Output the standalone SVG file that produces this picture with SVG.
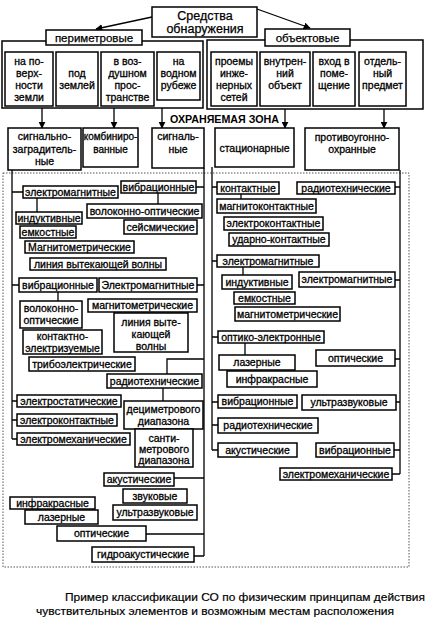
<svg xmlns="http://www.w3.org/2000/svg" width="427" height="619" viewBox="0 0 427 619">
<defs>
<marker id="ah" viewBox="0 0 10 10" refX="9" refY="5" markerWidth="7" markerHeight="7" orient="auto-start-reverse" markerUnits="userSpaceOnUse"><path d="M0,0 L10,5 L0,10 z" fill="#000"/></marker>
<style>
.b{fill:#fff;stroke:#000;stroke-width:1.5}
.o{fill:none;stroke:#000;stroke-width:1.5}
.t{font-family:"Liberation Sans",Arial,sans-serif;font-size:10.5px;text-anchor:middle;fill:#000;stroke:#000;stroke-width:0.3}
.h{font-family:"Liberation Sans",Arial,sans-serif;font-size:12.5px;text-anchor:middle;fill:#000;stroke:#000;stroke-width:0.25}
.z{font-family:"Liberation Sans",Arial,sans-serif;font-size:11px;font-weight:bold;fill:#000}
.cap{font-family:"Liberation Sans",Arial,sans-serif;font-size:11.5px;fill:#000;stroke:#000;stroke-width:0.2}
.c{fill:none;stroke:#000;stroke-width:1.3}
.d{fill:none;stroke:#555;stroke-width:1;stroke-dasharray:1.5 1.5}
</style>
</defs>
<rect x="0" y="0" width="427" height="619" fill="#fff"/>
<rect class="d" x="3" y="173" width="406" height="394"/>

<g id="connectors">
<line class="c" x1="152" y1="17" x2="96" y2="29" marker-end="url(#ah)"/>
<line class="c" x1="257" y1="9" x2="310" y2="28" marker-end="url(#ah)"/>
<line class="c" x1="42" y1="108" x2="42" y2="128" marker-end="url(#ah)"/>
<line class="c" x1="114" y1="108" x2="114" y2="128" marker-end="url(#ah)"/>
<line class="c" x1="162" y1="108" x2="162" y2="128" marker-end="url(#ah)"/>
<line class="c" x1="285" y1="109" x2="285" y2="128" marker-end="url(#ah)"/>
<line class="c" x1="384" y1="109" x2="384" y2="128" marker-end="url(#ah)"/>
<path class="c" d="M12,170 V439 M12,192 H23 M12,285 H19 M12,401 H17 M12,420 H17 M12,439 H17"/>
<path class="c" d="M204,168 V556 M196,187 H204 M197,285 H204 M204,359 H167 V374 M174,478 H204 M146,534 H204 M194,556 H204"/>
<path class="c" d="M212,167 V450 M212,187 H217 M212,261 H217 M212,337 H218 M212,402 H218 M212,425 H218 M212,450 H218"/>
<path class="c" d="M400,170 V474 M395,187 H400 M395,280 H400 M395,359 H400 M396,402 H400 M394,450 H400 M392,474 H400"/>
<path class="c" d="M37,198 V212 M158,193 V204 M58,292 V301 M163,388 V401 M241,194 V199 M243,267 V275 M245,343 V355"/>
</g>

<g id="n-root"><rect class="b" x="152" y="7" width="105" height="30"/><text class="h" x="205" y="20">Средства</text><text class="h" x="205" y="33">обнаружения</text></g>

<g id="n-perim">
<rect class="o" x="2" y="41" width="201" height="67"/>
<rect class="b" x="46" y="30" width="96" height="15"/><text class="h" x="94" y="42" style="font-size:11.5px">периметровые</text>
</g>
<g id="n-p1"><rect class="b" x="5" y="52" width="48" height="54"/><text class="t" x="29" y="65">на по-</text><text class="t" x="29" y="77">верх-</text><text class="t" x="29" y="89">ности</text><text class="t" x="29" y="101">земли</text></g>
<g id="n-p2"><rect class="b" x="56" y="52" width="42" height="54"/><text class="t" x="77" y="77">под</text><text class="t" x="77" y="89">землей</text></g>
<g id="n-p3"><rect class="b" x="101" y="52" width="53" height="54"/><text class="t" x="127.5" y="65">в воз-</text><text class="t" x="127.5" y="77">душном</text><text class="t" x="127.5" y="89">прос-</text><text class="t" x="127.5" y="101">транстве</text></g>
<g id="n-p4"><rect class="b" x="157" y="52" width="43" height="48"/><text class="t" x="178.5" y="65">на</text><text class="t" x="178.5" y="77">водном</text><text class="t" x="178.5" y="89">рубеже</text></g>

<g id="n-obj">
<rect class="o" x="207" y="40" width="216" height="69"/>
<rect class="b" x="265" y="29" width="85" height="17"/><text class="h" x="307.5" y="42" style="font-size:11.5px">объектовые</text>
</g>
<g id="n-o1"><rect class="b" x="211" y="52" width="46" height="54"/><text class="t" x="234" y="65">проемы</text><text class="t" x="234" y="77">инже-</text><text class="t" x="234" y="89">нерных</text><text class="t" x="234" y="101">сетей</text></g>
<g id="n-o2"><rect class="b" x="260" y="52" width="50" height="54"/><text class="t" x="285" y="65">внутрен-</text><text class="t" x="285" y="77">ний</text><text class="t" x="285" y="89">объект</text></g>
<g id="n-o3"><rect class="b" x="313" y="52" width="42" height="54"/><text class="t" x="334" y="65">вход в</text><text class="t" x="334" y="77">поме-</text><text class="t" x="334" y="89">щение</text></g>
<g id="n-o4"><rect class="b" x="359" y="52" width="47" height="54"/><text class="t" x="382.5" y="65">отдель-</text><text class="t" x="382.5" y="77">ный</text><text class="t" x="382.5" y="89">предмет</text></g>

<text class="z" x="170" y="123" textLength="109" lengthAdjust="spacingAndGlyphs">ОХРАНЯЕМАЯ ЗОНА</text>

<g id="n-s1"><rect class="b" x="8" y="128" width="73" height="42"/><text class="t" x="44.5" y="140">сигнально-</text><text class="t" x="44.5" y="153">заградитель-</text><text class="t" x="44.5" y="165">ные</text></g>
<g id="n-s2"><rect class="b" x="83" y="128" width="55" height="39"/><text class="t" x="110.5" y="140" style="font-size:10px">комбиниро-</text><text class="t" x="110.5" y="153" style="font-size:10px">ванные</text></g>
<g id="n-s3"><rect class="b" x="152" y="128" width="52" height="40"/><text class="t" x="178" y="140">сигналь-</text><text class="t" x="178" y="153">ные</text></g>
<g id="n-s4"><rect class="b" x="215" y="128" width="79" height="39"/><text class="t" x="254.5" y="152">стационарные</text></g>
<g id="n-s5"><rect class="b" x="305" y="128" width="94" height="42"/><text class="t" x="352" y="141">противоугонно-</text><text class="t" x="352" y="153">охранные</text></g>

<g id="n-L1"><rect class="b" x="23" y="186" width="95" height="12"/><text class="t" x="70.5" y="195.5">электромагнитные</text></g>
<g id="n-L2"><rect class="b" x="121" y="181" width="75" height="12"/><text class="t" x="158.5" y="190.5">вибрационные</text></g>
<g id="n-L3"><rect class="b" x="16" y="212" width="66" height="12"/><text class="t" x="49" y="221.5">индуктивные</text></g>
<g id="n-L4"><rect class="b" x="20" y="226" width="56" height="12"/><text class="t" x="48" y="235.5">емкостные</text></g>
<g id="n-L5"><rect class="b" x="87" y="204" width="115" height="14"/><text class="t" x="144.5" y="214.5">волоконно-оптические</text></g>
<g id="n-L6"><rect class="b" x="124" y="220" width="73" height="14"/><text class="t" x="160.5" y="230.5">сейсмические</text></g>
<g id="n-L7"><rect class="b" x="25" y="241" width="109" height="12"/><text class="t" x="79.5" y="250.5">Магнитометрические</text></g>
<g id="n-L8"><rect class="b" x="30" y="258" width="136" height="12"/><text class="t" x="98" y="267.5">линия вытекающей волны</text></g>
<g id="n-L9"><rect class="b" x="19" y="278" width="78" height="14"/><text class="t" x="58" y="288.5">вибрационные</text></g>
<g id="n-L10"><rect class="b" x="99" y="278" width="98" height="14"/><text class="t" x="148" y="288.5">Электромагнитные</text></g>
<g id="n-L11"><rect class="b" x="20" y="301" width="62" height="27"/><text class="t" x="51" y="311.5">волоконно-</text><text class="t" x="51" y="324">оптические</text></g>
<g id="n-L12"><rect class="b" x="88" y="299" width="109" height="13"/><text class="t" x="142.5" y="309">магнитометрические</text></g>
<g id="n-L13"><rect class="b" x="114" y="313" width="74" height="39"/><text class="t" x="151" y="326">линия выте-</text><text class="t" x="151" y="338">кающей</text><text class="t" x="151" y="350">волны</text></g>
<g id="n-L14"><rect class="b" x="23" y="330" width="79" height="24"/><text class="t" x="62.5" y="339.5">контактно-</text><text class="t" x="62.5" y="351.5">электризуемые</text></g>
<g id="n-L15"><rect class="b" x="29" y="357" width="106" height="14"/><text class="t" x="82" y="367.5">трибоэлектрические</text></g>
<g id="n-L16"><rect class="b" x="107" y="374" width="95" height="14"/><text class="t" x="154.5" y="384.5">радиотехнические</text></g>
<g id="n-L17"><rect class="b" x="17" y="395" width="104" height="12"/><text class="t" x="69" y="404.5">электростатические</text></g>
<g id="n-L18"><rect class="b" x="17" y="414" width="100" height="12"/><text class="t" x="67" y="423.5">электроконтактные</text></g>
<g id="n-L19"><rect class="b" x="17" y="433" width="113" height="12"/><text class="t" x="73.5" y="442.5">электромеханические</text></g>
<g id="n-L20"><rect class="b" x="124" y="401" width="79" height="28"/><text class="t" x="163.5" y="413">дециметрового</text><text class="t" x="163.5" y="425">диапазона</text></g>
<g id="n-L21"><rect class="b" x="135" y="429" width="58" height="38"/><text class="t" x="164" y="442">санти-</text><text class="t" x="164" y="453">метрового</text><text class="t" x="164" y="464">диапазона</text></g>
<g id="n-L22"><rect class="b" x="104" y="473" width="70" height="13"/><text class="t" x="139" y="483">акустические</text></g>
<g id="n-L23"><rect class="b" x="123" y="489" width="64" height="14"/><text class="t" x="155" y="499.5">звуковые</text></g>
<g id="n-L24"><rect class="b" x="113" y="505" width="84" height="15"/><text class="t" x="155" y="516">ультразвуковые</text></g>
<g id="n-L25"><rect class="b" x="10" y="497" width="85" height="12"/><text class="t" x="52.5" y="506.5">инфракрасные</text></g>
<g id="n-L26"><rect class="b" x="25" y="510" width="73" height="14"/><text class="t" x="61.5" y="520.5">лазерные</text></g>
<g id="n-L27"><rect class="b" x="57" y="526" width="89" height="15"/><text class="t" x="101.5" y="537">оптические</text></g>
<g id="n-L28"><rect class="b" x="92" y="547" width="102" height="15"/><text class="t" x="143" y="558">гидроакустические</text></g>

<g id="n-R1"><rect class="b" x="217" y="182" width="62" height="12"/><text class="t" x="248" y="191.5">контактные</text></g>
<g id="n-R2"><rect class="b" x="297" y="182" width="98" height="12"/><text class="t" x="346" y="191.5">радиотехнические</text></g>
<g id="n-R3"><rect class="b" x="217" y="199" width="99" height="14"/><text class="t" x="266.5" y="209.5">магнитоконтактные</text></g>
<g id="n-R4"><rect class="b" x="224" y="217" width="99" height="13"/><text class="t" x="273.5" y="227">электроконтактные</text></g>
<g id="n-R5"><rect class="b" x="229" y="233" width="100" height="13"/><text class="t" x="279" y="243">ударно-контактные</text></g>
<g id="n-R6"><rect class="b" x="217" y="255" width="102" height="12"/><text class="t" x="268" y="264.5">электромагнитные</text></g>
<g id="n-R7"><rect class="b" x="222" y="275" width="70" height="14"/><text class="t" x="257" y="285.5">индуктивные</text></g>
<g id="n-R8"><rect class="b" x="234" y="292" width="61" height="12"/><text class="t" x="264.5" y="301.5">емкостные</text></g>
<g id="n-R9"><rect class="b" x="235" y="307" width="105" height="14"/><text class="t" x="287.5" y="317.5">магнитометрические</text></g>
<g id="n-R10"><rect class="b" x="299" y="272" width="96" height="15"/><text class="t" x="347" y="283">электромагнитные</text></g>
<g id="n-R11"><rect class="b" x="218" y="331" width="106" height="12"/><text class="t" x="271" y="340.5">оптико-электронные</text></g>
<g id="n-R12"><rect class="b" x="219" y="355" width="76" height="15"/><text class="t" x="257" y="366">лазерные</text></g>
<g id="n-R13"><rect class="b" x="227" y="371" width="90" height="16"/><text class="t" x="272" y="382.5">инфракрасные</text></g>
<g id="n-R14"><rect class="b" x="316" y="350" width="79" height="16"/><text class="t" x="355.5" y="361.5">оптические</text></g>
<g id="n-R15"><rect class="b" x="218" y="395" width="79" height="13"/><text class="t" x="257.5" y="405">вибрационные</text></g>
<g id="n-R16"><rect class="b" x="302" y="395" width="94" height="15"/><text class="t" x="349" y="406">ультразвуковые</text></g>
<g id="n-R17"><rect class="b" x="218" y="418" width="100" height="15"/><text class="t" x="268" y="429">радиотехнические</text></g>
<g id="n-R18"><rect class="b" x="218" y="443" width="79" height="14"/><text class="t" x="257.5" y="453.5">акустические</text></g>
<g id="n-R19"><rect class="b" x="316" y="443" width="78" height="14"/><text class="t" x="355" y="453.5">вибрационные</text></g>
<g id="n-R20"><rect class="b" x="280" y="468" width="112" height="12"/><text class="t" x="336" y="477.5">электромеханические</text></g>

<text class="cap" x="65" y="601" textLength="360" lengthAdjust="spacingAndGlyphs">Пример классификации СО по физическим принципам действия</text>
<text class="cap" x="36" y="615" textLength="358" lengthAdjust="spacingAndGlyphs">чувствительных элементов и возможным местам расположения</text>
</svg>
